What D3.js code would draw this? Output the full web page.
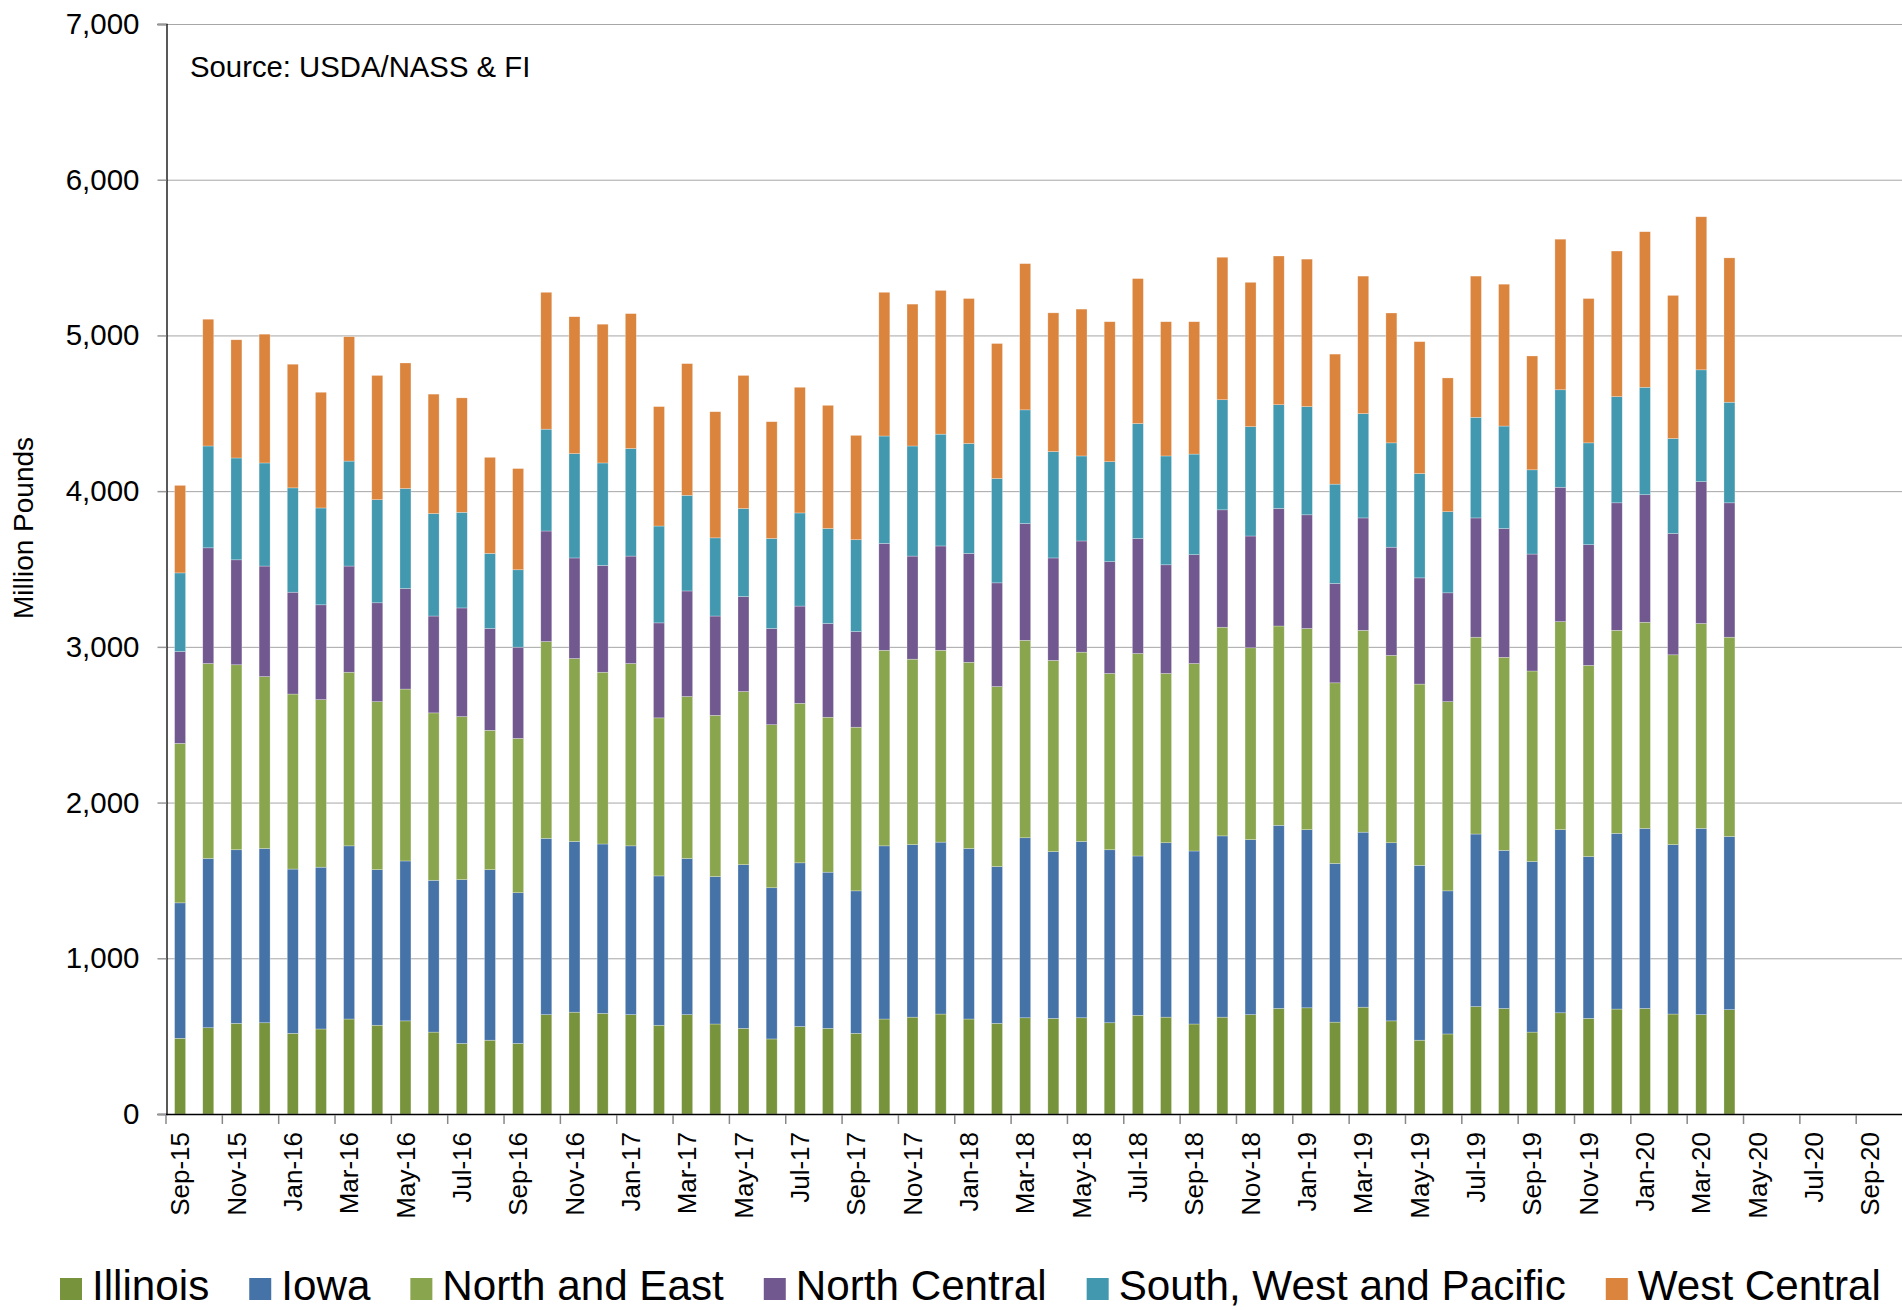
<!DOCTYPE html>
<html>
<head>
<meta charset="utf-8">
<script src="https://d3js.org/d3.v7.min.js"></script>
<style>
  body { margin: 0; background: #fff; }
  svg text { font-family: "Liberation Sans", Arial, Helvetica, sans-serif; fill: #000; }
  .grid line { stroke: #a6a6a6; stroke-width: 1; }
  .bar { stroke: rgba(255,255,255,0.45); stroke-width: 0.6; }
</style>
</head>
<body>
<svg width="1902" height="1310"></svg>
<script>

// categories: Sep-15 .. Oct-20 (data ends at Apr-20)
var months = ["Sep-15","Oct-15","Nov-15","Dec-15",
  "Jan-16","Feb-16","Mar-16","Apr-16","May-16","Jun-16","Jul-16","Aug-16","Sep-16","Oct-16","Nov-16","Dec-16",
  "Jan-17","Feb-17","Mar-17","Apr-17","May-17","Jun-17","Jul-17","Aug-17","Sep-17","Oct-17","Nov-17","Dec-17",
  "Jan-18","Feb-18","Mar-18","Apr-18","May-18","Jun-18","Jul-18","Aug-18","Sep-18","Oct-18","Nov-18","Dec-18",
  "Jan-19","Feb-19","Mar-19","Apr-19","May-19","Jun-19","Jul-19","Aug-19","Sep-19","Oct-19","Nov-19","Dec-19",
  "Jan-20","Feb-20","Mar-20","Apr-20","May-20","Jun-20","Jul-20","Aug-20","Sep-20","Oct-20"];

// million pounds, by region
var illinois = [486,554,582,586,518,546,610,570,598,526,453,474,453,638,654,646,638,570,638,578,550,482,562,550,518,610,622,642,
  610,582,618,614,618,586,634,622,578,622,638,678,682,590,686,598,474,514,690,678,526,650,614,674,678,642,638,670];
var iowa = [870,1087,1115,1119,1055,1039,1112,999,1027,975,1052,1095,968,1132,1096,1088,1084,959,1003,947,1051,971,1051,1003,915,1112,1108,1104,
  1095,1007,1156,1071,1132,1111,1023,1120,1111,1164,1124,1176,1144,1019,1124,1144,1123,919,1108,1015,1095,1176,1039,1128,1156,1088,1196,1112];
var northEast = [1024,1252,1188,1104,1124,1076,1115,1079,1104,1075,1047,895,991,1264,1175,1103,1171,1015,1040,1035,1112,1047,1024,995,1051,1256,1191,1232,
  1196,1156,1268,1228,1216,1132,1300,1087,1204,1340,1232,1280,1292,1160,1296,1203,1164,1215,1264,1240,1224,1336,1228,1304,1324,1219,1316,1280];
var northCentral = [590,743,674,710,654,609,682,635,646,622,698,654,586,710,646,686,690,610,678,638,610,618,625,602,614,686,662,670,
  699,666,750,658,714,718,739,698,699,754,718,755,730,638,722,695,682,699,766,827,751,863,775,819,819,779,911,863];
var southWest = [505,654,654,662,670,622,674,662,642,658,614,482,497,654,670,658,691,622,614,502,565,578,598,610,590,690,707,718,
  706,670,730,683,546,642,738,699,646,707,702,666,695,638,670,670,670,521,646,658,541,626,654,682,690,610,718,646];
var westCentral = [562,814,759,827,794,743,799,798,806,767,735,617,650,879,879,891,866,767,846,810,855,750,807,791,670,923,911,923,
  931,867,939,891,943,899,931,862,850,915,927,955,947,835,883,834,847,859,907,911,731,967,927,935,999,919,983,927];

var seriesNames = ["Illinois", "Iowa", "North and East", "North Central", "South, West and Pacific", "West Central"];
var seriesValues = [illinois, iowa, northEast, northCentral, southWest, westCentral];
var colors = ["#77933c", "#4572a7", "#89a54e", "#71588f", "#4198af", "#db843d"];
var yTicks = [0, 1000, 2000, 3000, 4000, 5000, 6000, 7000];

var width = 1902, height = 1310;
var plotLeft = 166, plotTop = 24, plotBottom = 1114;
var step = 28.17;

var svg = d3.select("svg");

var x = d3.scaleBand()
  .domain(months)
  .range([plotLeft, plotLeft + months.length * step])
  .paddingInner(0.61)
  .paddingOuter(0.305);

var y = d3.scaleLinear()
  .domain([0, 7000])
  .range([plotBottom, plotTop]);

// rows for the stack
var rows = illinois.map(function (v, i) {
  var r = { month: months[i] };
  seriesNames.forEach(function (name, k) { r[name] = seriesValues[k][i]; });
  return r;
});
var stacked = d3.stack().keys(seriesNames)(rows);

// gridlines
svg.append("g").attr("class", "grid")
  .selectAll("line")
  .data(yTicks.filter(function (d) { return d > 0; }))
  .enter().append("line")
  .attr("x1", plotLeft).attr("x2", width)
  .attr("y1", function (d) { return y(d) + 0.5; })
  .attr("y2", function (d) { return y(d) + 0.5; });

// bars
svg.append("g")
  .selectAll("g")
  .data(stacked)
  .enter().append("g")
  .attr("fill", function (d, i) { return colors[i]; })
  .selectAll("rect")
  .data(function (d) { return d; })
  .enter().append("rect")
  .attr("class", "bar")
  .attr("x", function (d) { return x(d.data.month); })
  .attr("width", x.bandwidth())
  .attr("y", function (d) { return y(d[1]); })
  .attr("height", function (d) { return y(d[0]) - y(d[1]); });

// y axis
var yAxis = svg.append("g")
  .attr("transform", "translate(" + (plotLeft + 0.5) + ",0)")
  .call(d3.axisLeft(y).tickValues(yTicks).tickSize(9).tickPadding(18).tickFormat(d3.format(",")));
yAxis.select(".domain").attr("stroke", "#000").attr("stroke-width", 1.3);
yAxis.selectAll(".tick line").attr("stroke", "#999").attr("stroke-width", 1.5);
yAxis.selectAll(".tick text").style("font-size", "29.5px").attr("fill", "#000");

// x axis
var tickIdx = months.map(function (m, i) { return i; }).filter(function (i) { return i % 2 === 0; });
var xg = svg.append("g");
xg.append("line")
  .attr("x1", plotLeft).attr("x2", width)
  .attr("y1", plotBottom + 0.5).attr("y2", plotBottom + 0.5)
  .attr("stroke", "#000").attr("stroke-width", 1.5);
xg.selectAll(".xtick")
  .data(tickIdx)
  .enter().append("line")
  .attr("class", "xtick")
  .attr("x1", function (i) { return x(months[i]) - x.step() * x.paddingInner() / 2; })
  .attr("x2", function (i) { return x(months[i]) - x.step() * x.paddingInner() / 2; })
  .attr("y1", plotBottom + 1).attr("y2", plotBottom + 10)
  .attr("stroke", "#888").attr("stroke-width", 1.5);
xg.selectAll(".xlabel")
  .data(tickIdx)
  .enter().append("text")
  .attr("class", "xlabel")
  .attr("transform", function (i) {
    return "translate(" + (x(months[i]) + x.bandwidth() / 2) + "," + (plotBottom + 18) + ") rotate(-90)";
  })
  .attr("text-anchor", "end")
  .attr("dy", "0.35em")
  .style("font-size", "26px")
  .text(function (i) { return months[i]; });

// axis title
svg.append("text")
  .attr("transform", "translate(23,528) rotate(-90)")
  .attr("text-anchor", "middle")
  .attr("dy", "0.35em")
  .style("font-size", "28px")
  .text("Million Pounds");

// source note
svg.append("text")
  .attr("x", 190).attr("y", 77)
  .style("font-size", "29.3px")
  .text("Source: USDA/NASS & FI");

// legend
var legend = svg.append("g");
var lx = 60;
seriesNames.forEach(function (name, i) {
  legend.append("rect")
    .attr("x", lx).attr("y", 1278)
    .attr("width", 22).attr("height", 22)
    .attr("fill", colors[i]);
  var t = legend.append("text")
    .attr("x", lx + 32).attr("y", 1300)
    .style("font-size", "42.2px")
    .text(name);
  lx += 32 + t.node().getComputedTextLength() + 40;
});

</script>
</body>
</html>
